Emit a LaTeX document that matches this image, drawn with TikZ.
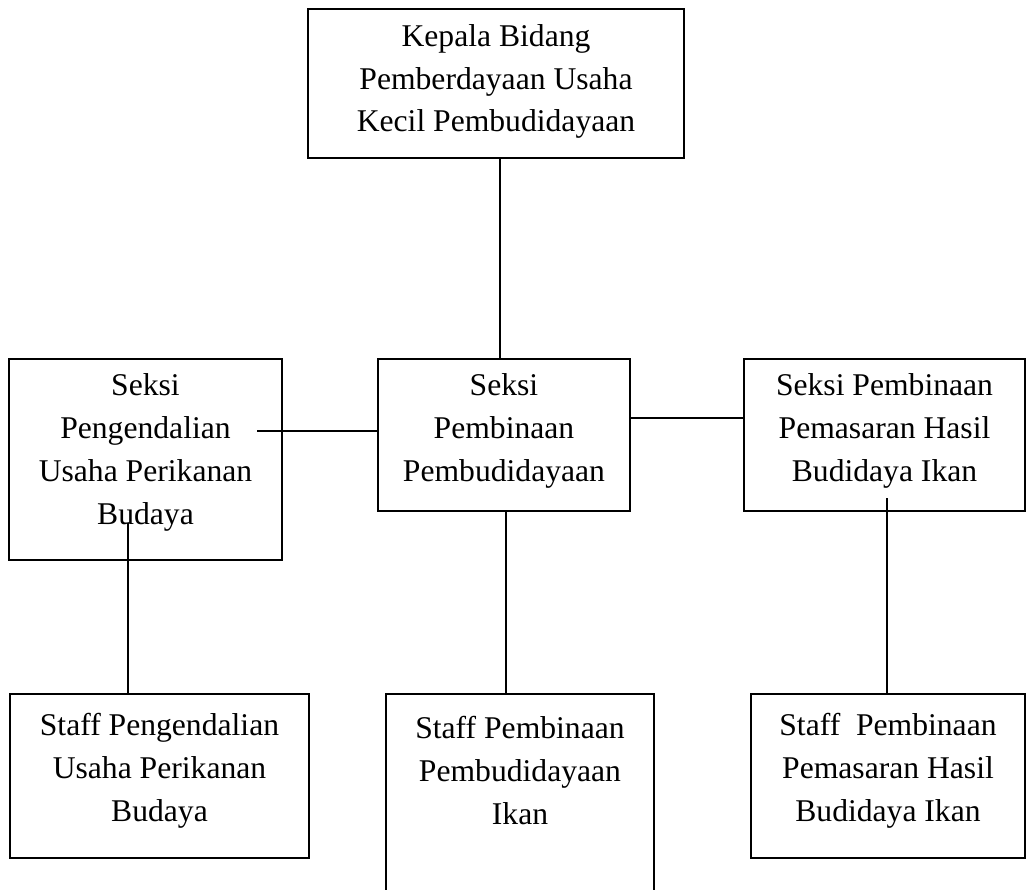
\documentclass[tikz,border=0pt]{standalone}
\usepackage{fontspec}
\setmainfont{Liberation Serif}
\usepackage{tikz}

\begin{document}
\begin{tikzpicture}[line width=1.2pt,
		box/.style={draw,rectangle,inner sep=0pt},
		txt/.style={align=center,inner sep=0pt,font=\fontsize{18}{24.4}\selectfont}]
		\useasboundingbox (0,0) rectangle (20.56,-17.78);
		% frames
		\node[box,minimum width=7.52cm,minimum height=2.98cm] (kepala) at (9.92,-1.67) {};
		\node[box,minimum width=5.46cm,minimum height=4.02cm] (seksiP) at (2.91,-9.19) {};
		\node[box,minimum width=5.04cm,minimum height=3.04cm] (seksiB) at (10.08,-8.70) {};
		\node[box,minimum width=5.62cm,minimum height=3.04cm] (seksiM) at (17.69,-8.70) {};
		\node[box,minimum width=5.98cm,minimum height=3.28cm] (staffP) at (3.19,-15.52) {};
		\node[box,minimum width=5.36cm,minimum height=4.32cm] (staffB) at (10.40,-16.04) {};
		\node[box,minimum width=5.48cm,minimum height=3.28cm] (staffM) at (17.76,-15.52) {};
		% texts
		\node[txt] (kepalaT) at (9.92,-1.63) {Kepala Bidang\\Pemberdayaan Usaha\\Kecil Pembudidayaan};
		\node[txt] (seksiPT) at (2.91,-9.05) {Seksi\\Pengendalian\\Usaha Perikanan\\Budaya};
		\node[txt] (seksiBT) at (10.08,-8.62) {Seksi\\Pembinaan\\Pembudidayaan};
		\node[txt] (seksiMT) at (17.69,-8.62) {Seksi Pembinaan\\Pemasaran Hasil\\Budidaya Ikan};
		\node[txt] (staffPT) at (3.19,-15.41) {Staff Pengendalian\\Usaha Perikanan\\Budaya};
		\node[txt] (staffBT) at (10.40,-15.41) {Staff Pembinaan\\Pembudidayaan\\Ikan};
		\node[txt] (staffMT) at (17.76,-15.41) {Staff~ Pembinaan\\Pemasaran Hasil\\Budidaya Ikan};
		% lines
		\coordinate (cP) at (5.14,-8.62);
		\coordinate (cL) at (2.56,-10.46);
		\coordinate (cR) at (17.74,-9.96);
		\draw ([xshift=0.08cm]kepala.south) -- ([xshift=0.08cm]kepala.south |- seksiB.north);
		\draw (cP) -- (cP -| seksiB.west);
		\draw ([yshift=0.34cm]seksiB.east) -- ([yshift=0.34cm]seksiM.west);
		\draw ([xshift=0.04cm]seksiB.south) -- ([xshift=0.04cm]seksiB.south |- staffB.north);
		\draw (cL) -- (cL |- staffP.north);
		\draw (cR) -- (cR |- staffM.north);
	\end{tikzpicture}
\end{document}
